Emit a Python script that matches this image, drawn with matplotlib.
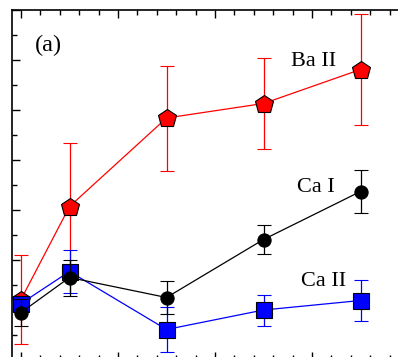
import matplotlib
matplotlib.use("Agg")
import matplotlib.pyplot as plt
from matplotlib.ticker import MultipleLocator

x = [0.0, 0.5, 1.5, 2.5, 3.5]
ba2 = [1.21, 3.07, 4.84, 5.13, 5.81]
ba2_err = [0.89, 1.28, 1.05, 0.91, 1.11]
ca1 = [0.95, 1.65, 1.25, 2.41, 3.37]
ca1_err = [0.27, 0.36, 0.33, 0.28, 0.43]
ca2 = [1.13, 1.77, 0.61, 1.00, 1.19]
ca2_err = [0.15, 0.43, 0.45, 0.31, 0.41]

W, H = 398, 357
fig = plt.figure(figsize=(W / 100, H / 100), dpi=100)
# axes extends past the right and bottom edges of the picture (cropped look)
left_px, top_px, right_px, bottom_px = 12, 10, 409, 360
ax = fig.add_axes([left_px / W, (H - bottom_px) / H,
                   (right_px - left_px) / W, (bottom_px - top_px) / H])

ax.errorbar(x, ba2, yerr=ba2_err, color="red", lw=0.9, marker="p", ms=13.5,
            mfc="red", mec="black", mew=0.8, capsize=5, elinewidth=0.9,
            capthick=0.9, zorder=2)
ax.errorbar(x, ca2, yerr=ca2_err, color="blue", lw=0.9, marker="s", ms=11,
            mfc="blue", mec="black", mew=0.8, capsize=5, elinewidth=0.9,
            capthick=0.9, zorder=3)
ax.errorbar(x, ca1, yerr=ca1_err, color="black", lw=0.9, marker="o", ms=9.5,
            mfc="black", mec="black", mew=0.8, capsize=5, elinewidth=0.9,
            capthick=0.9, zorder=4)

ax.set_xlim(-0.093, 4.0)
ax.set_ylim(0, 7)

ax.xaxis.set_major_locator(MultipleLocator(1))
ax.xaxis.set_minor_locator(MultipleLocator(0.2))
ax.yaxis.set_major_locator(MultipleLocator(1))
ax.yaxis.set_minor_locator(MultipleLocator(0.5))
ax.tick_params(which="both", direction="in", top=True, right=True,
               labelbottom=False, labelleft=False, width=1.0)
ax.tick_params(which="major", length=6)
ax.tick_params(which="minor", length=3.3)
for s in ax.spines.values():
    s.set_linewidth(1.2)

font = dict(family="Liberation Serif", fontsize=16)
ax.text(0.28, 6.3, "(a)", ha="center", va="center",
        family="Liberation Serif", fontsize=17.5)
ax.text(3.02, 5.98, "Ba II", ha="center", va="center", **font)
ax.text(3.04, 3.46, "Ca I", ha="center", va="center", **font)
ax.text(3.12, 1.58, "Ca II", ha="center", va="center", **font)

fig.savefig("out.png", dpi=100)
